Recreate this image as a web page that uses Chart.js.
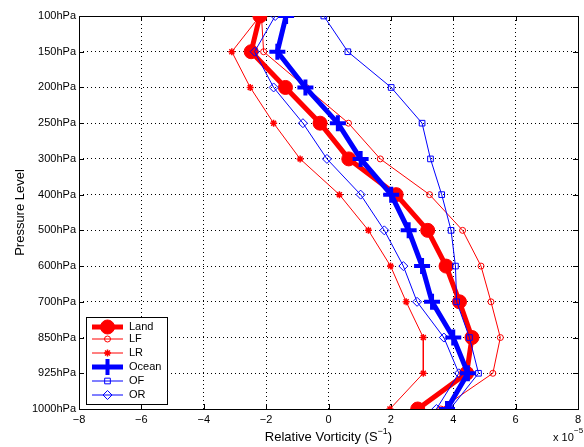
<!DOCTYPE html>
<html>
<head>
<meta charset="utf-8">
<script src="https://cdn.jsdelivr.net/npm/chart.js@4/dist/chart.umd.min.js"></script>
<style>
  html, body { margin: 0; padding: 0; background: #fff; }
</style>
</head>
<body>
<canvas id="chart" width="584" height="447"></canvas>
<script>
// pressure levels, top to bottom
const levels = ['100hPa', '150hPa', '200hPa', '250hPa', '300hPa', '400hPa',
                '500hPa', '600hPa', '700hPa', '850hPa', '925hPa', '1000hPa'];

// relative vorticity, units of 1e-5 s^-1
const land  = [-2.20, -2.48, -1.38, -0.27, 0.65, 2.17, 3.18, 3.77, 4.20, 4.60, 4.43, 2.86];
const lf    = [-2.15, -2.08, -0.72, 0.64, 1.66, 3.24, 4.30, 4.89, 5.21, 5.51, 5.27, 3.60];
const lr    = [-2.20, -3.10, -2.51, -1.76, -0.91, 0.35, 1.28, 1.99, 2.49, 3.04, 3.04, 1.97];
const ocean = [-1.36, -1.64, -0.74, 0.30, 1.03, 2.01, 2.57, 3.00, 3.32, 4.00, 4.47, 3.80];
const of    = [-0.15, 0.62, 2.01, 3.00, 3.27, 3.63, 3.93, 4.07, 4.11, 4.52, 4.81, 3.90];
const or    = [-1.71, -2.37, -1.76, -0.82, -0.05, 1.03, 1.79, 2.40, 2.84, 3.70, 4.18, 3.46];

const xTicks = [-8, -6, -4, -2, 0, 2, 4, 6, 8];

const FONT = 'Helvetica, Arial, "Liberation Sans", sans-serif';
const RED = '#ff0000';
const BLUE = '#0000ff';
const NONE = 'rgba(0,0,0,0)';

const pts = vals => vals.map((v, i) => ({ x: v, y: i }));

function series(label, vals, color, width, style, radius, fill, pw, order) {
  return {
    label: label,
    data: pts(vals),
    borderColor: color,
    borderWidth: width,
    pointStyle: style,
    pointRadius: radius,
    pointBackgroundColor: fill,
    pointBorderColor: color,
    pointBorderWidth: pw,
    tension: 0,
    fill: false,
    order: order
  };
}

const datasets = [
  series('Land',  land,  RED,  5, 'circle',  7,   RED,  1,   6),
  series('LF',    lf,    RED,  1, 'circle',  3,   NONE, 1,   5),
  series('LR',    lr,    RED,  1, 'star',    3.5, RED,  1.5, 4),
  series('Ocean', ocean, BLUE, 5, 'cross',   8,   BLUE, 4,   3),
  series('OF',    of,    BLUE, 1, 'rect',    4,   NONE, 1,   2),
  series('OR',    or,    BLUE, 1, 'rectRot', 4.5, NONE, 1,   1)
];

function marker(ctx, ds, x, y) {
  ctx.save();
  ctx.fillStyle = ds.pointBackgroundColor;
  ctx.strokeStyle = ds.pointBorderColor;
  ctx.lineWidth = ds.pointBorderWidth;
  Chart.helpers.drawPoint(ctx, {
    pointStyle: ds.pointStyle, radius: ds.pointRadius,
    rotation: 0, borderWidth: ds.pointBorderWidth
  }, x, y);
  ctx.restore();
}

// box, inward ticks, titles and legend (matlab look)
const decor = {
  id: 'decor',
  beforeDatasetsDraw(chart) {
    const { ctx, chartArea: a, scales } = chart;
    ctx.save();
    ctx.strokeStyle = '#000';
    ctx.lineWidth = 1;
    ctx.beginPath();
    xTicks.forEach(v => {
      const x = Math.round(scales.x.getPixelForValue(v)) + 0.5;
      ctx.moveTo(x, a.bottom); ctx.lineTo(x, a.bottom - 5);
      ctx.moveTo(x, a.top); ctx.lineTo(x, a.top + 5);
    });
    levels.forEach((l, i) => {
      const y = Math.round(scales.y.getPixelForValue(i)) + 0.5;
      ctx.moveTo(a.left, y); ctx.lineTo(a.left + 5, y);
      ctx.moveTo(a.right, y); ctx.lineTo(a.right - 5, y);
    });
    ctx.stroke();
    ctx.strokeRect(Math.round(a.left) + 0.5, Math.round(a.top) + 0.5,
                   Math.round(a.right - a.left), Math.round(a.bottom - a.top));
    ctx.restore();
  },
  afterDraw(chart) {
    const { ctx, chartArea: a } = chart;
    ctx.save();
    ctx.fillStyle = '#000';

    // y title
    ctx.font = '13px ' + FONT;
    ctx.textAlign = 'center';
    ctx.textBaseline = 'middle';
    ctx.save();
    ctx.translate(20, (a.top + a.bottom) / 2);
    ctx.rotate(-Math.PI / 2);
    ctx.fillText('Pressure Level', 0, 0);
    ctx.restore();

    // x title with superscript
    const base = 'Relative Vorticity (S';
    const sup = '\u22121';
    ctx.font = '13px ' + FONT;
    const w1 = ctx.measureText(base).width;
    ctx.font = '9px ' + FONT;
    const w2 = ctx.measureText(sup).width;
    ctx.font = '13px ' + FONT;
    const w3 = ctx.measureText(')').width;
    let x0 = (a.left + a.right) / 2 - (w1 + w2 + w3) / 2;
    const yT = 437;
    ctx.textAlign = 'left';
    ctx.fillText(base, x0, yT);
    ctx.font = '9px ' + FONT;
    ctx.fillText(sup, x0 + w1, yT - 5);
    ctx.font = '13px ' + FONT;
    ctx.fillText(')', x0 + w1 + w2, yT);

    // exponent label
    ctx.font = '11px ' + FONT;
    ctx.fillText('x 10', 553, 438);
    ctx.font = '8px ' + FONT;
    ctx.fillText('\u22125', 574, 431);

    // legend
    const lx = 86, ly = 317, lw = 81, lh = 87;
    ctx.fillStyle = '#fff';
    ctx.fillRect(lx, ly, lw, lh);
    ctx.strokeStyle = '#000';
    ctx.lineWidth = 1;
    ctx.strokeRect(lx + 0.5, ly + 0.5, lw, lh);
    const rows = [327, 339, 353, 367, 381, 395];
    ctx.font = '11px ' + FONT;
    ctx.textBaseline = 'middle';
    chart.data.datasets.forEach((ds, i) => {
      const y = rows[i];
      ctx.strokeStyle = ds.borderColor;
      ctx.lineWidth = ds.borderWidth;
      ctx.beginPath();
      ctx.moveTo(92, y); ctx.lineTo(123, y);
      ctx.stroke();
      marker(ctx, ds, 107.5, y);
      ctx.fillStyle = '#000';
      ctx.textAlign = 'left';
      ctx.fillText(ds.label, 129, y);
    });
    ctx.restore();
  }
};

new Chart(document.getElementById('chart').getContext('2d'), {
  type: 'line',
  data: { datasets: datasets },
  plugins: [decor],
  options: {
    responsive: false,
    devicePixelRatio: 1,
    animation: false,
    events: [],
    layout: { autoPadding: false, padding: { left: 0, top: 16, right: 6, bottom: 0 } },
    plugins: { legend: { display: false }, tooltip: { enabled: false } },
    scales: {
      x: {
        type: 'linear',
        min: -8,
        max: 8,
        afterFit: s => { s.height = 38; s.paddingLeft = 0; s.paddingRight = 0; },
        afterBuildTicks: s => { s.ticks = xTicks.map(v => ({ value: v })); },
        ticks: {
          color: '#000',
          font: { family: FONT, size: 11 },
          padding: 4,
          maxRotation: 0,
          callback: v => String(v).replace('-', '\u2212')
        },
        grid: { color: '#000', lineWidth: 1, drawTicks: false },
        border: { display: false, dash: [1, 3] }
      },
      y: {
        type: 'linear',
        min: 0,
        max: levels.length - 1,
        reverse: true,
        afterFit: s => { s.width = 79; s.paddingTop = 0; s.paddingBottom = 0; },
        afterBuildTicks: s => { s.ticks = levels.map((l, i) => ({ value: i })); },
        ticks: {
          color: '#000',
          font: { family: FONT, size: 11 },
          padding: 3,
          callback: v => levels[v]
        },
        grid: { color: '#000', lineWidth: 1, drawTicks: false },
        border: { display: false, dash: [1, 3] }
      }
    }
  }
});
</script>
</body>
</html>
